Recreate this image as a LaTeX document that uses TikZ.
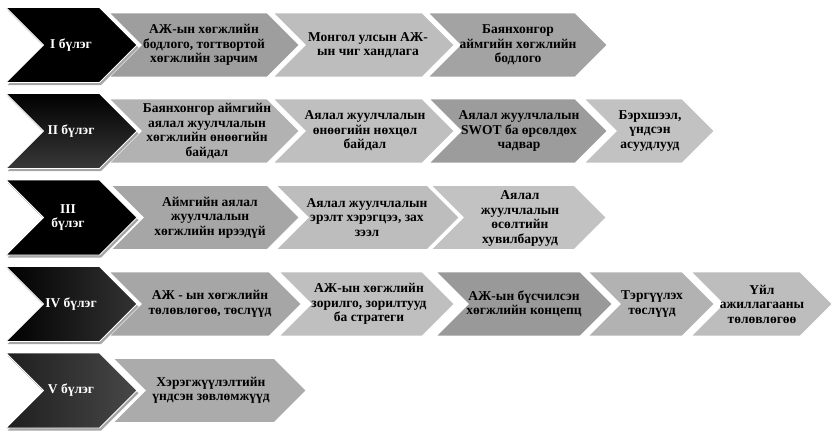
\documentclass[tikz,border=0pt]{standalone}
\usepackage{fontspec}
\setmainfont{Liberation Serif}
\usetikzlibrary{shadows}
\newcommand\chev[5]{\path[#5] (#1,#3-#4) -- ({#2-#4},#3-#4) -- (#2,#3) -- ({#2-#4},#3+#4) -- (#1,#3+#4) -- ({#1+#4},#3) -- cycle;}
\tikzset{
  greyc/.style={fill=#1, draw=white, line width=1.8pt, line join=miter},
  darkc/.style={draw=white, line width=0.8pt, line join=miter,
     drop shadow={shadow xshift=1.5pt, shadow yshift=-2.5pt, opacity=.35, fill=black}},
  gtext/.style={font=\bfseries\fontsize{13.5}{14.5}\selectfont, align=center, text=black, inner sep=0pt},
  ltext/.style={font=\bfseries\fontsize{13.5}{14.5}\selectfont, align=center, text=white, inner sep=0pt}
}
\definecolor{gA}{HTML}{9E9E9E}
\begin{document}
\begin{tikzpicture}[x=1pt,y=-1pt]
\useasboundingbox[fill=white] (0,0) rectangle (833,432);
% ---------- Row 1 ----------
\chev{108}{300}{45}{32.5}{greyc={gA}}
\chev{272}{455}{45}{32.5}{greyc={black!26}}
\chev{427}{608}{45}{32.5}{greyc={black!36}}
\chev{6}{137}{45}{37.5}{darkc, fill=black}
\node[ltext] (l1) at (71,45) {I бүлэг};
\node[gtext] (r1a) at (204,45) {АЖ-ын хөгжлийн\\бодлого, тогтвортой\\хөгжлийн зарчим};
\node[gtext] (r1b) at (368,45) {Монгол улсын АЖ-\\ын чиг хандлага};
\node[gtext] (r1c) at (518,45) {Баянхонгор\\аймгийн хөгжлийн\\бодлого};
% ---------- Row 2 ----------
\chev{108}{300}{131}{32.5}{greyc={black!30}}
\chev{272}{455}{131}{32.5}{greyc={black!25}}
\chev{428}{608}{131}{32.5}{greyc={black!39}}
\chev{583}{715}{131}{32.5}{greyc={black!24}}
\chev{6}{137}{131}{37.5}{darkc, top color=black, bottom color=black!78}
\node[ltext] (l2) at (71,131) {II бүлэг};
\node[gtext] (r2a) at (207,131) {Баянхонгор аймгийн\\аялал жуулчлалын\\хөгжлийн өнөөгийн\\байдал};
\node[gtext] (r2b) at (365,131) {Аялал жуулчлалын\\өнөөгийн нөхцөл\\байдал};
\node[gtext] (r2c) at (519,131) {Аялал жуулчлалын\\SWOT ба өрсөлдөх\\чадвар};
\node[gtext] (r2d) at (650,131) {Бэрхшээл,\\үндсэн\\асуудлууд};
% ---------- Row 3 ----------
\chev{110}{300}{217.5}{32.5}{greyc={black!35}}
\chev{275}{460}{217.5}{32.5}{greyc={black!26}}
\chev{430}{607}{217.5}{32.5}{greyc={black!24}}
\chev{6}{137}{217.5}{37.5}{darkc, fill=black}
\node[ltext] (l3) at (68,217.5) {III\\бүлэг};
\node[gtext] (r3a) at (210,217.5) {Аймгийн аялал\\жуулчлалын\\хөгжлийн ирээдүй};
\node[gtext] (r3b) at (367,217.5) {Аялал жуулчлалын\\эрэлт хэрэгцээ, зах\\зээл};
\node[gtext] (r3c) at (520,218.5) {Аялал\\жуулчлалын\\өсөлтийн\\хувилбарууд};
% ---------- Row 4 ----------
\chev{108}{302}{304}{32.5}{greyc={black!35}}
\chev{278}{455}{304}{32.5}{greyc={black!25}}
\chev{435}{613}{304}{32.5}{greyc={black!40}}
\chev{587}{715}{304}{32.5}{greyc={black!30}}
\chev{690}{833}{304}{32.5}{greyc={black!26}}
\chev{6}{137}{304}{37.5}{darkc, left color=black, right color=black!80}
\node[ltext] (l4) at (71,304) {IV бүлэг};
\node[gtext] (r4a) at (210,304) {АЖ - ын хөгжлийн\\төлөвлөгөө, төслүүд};
\node[gtext] (r4b) at (369,304) {АЖ-ын хөгжлийн\\зорилго, зорилтууд\\ба стратеги};
\node[gtext] (r4c) at (524,304) {АЖ-ын бүсчилсэн\\хөгжлийн концепц};
\node[gtext] (r4d) at (652,304) {Тэргүүлэх\\төслүүд};
\node[gtext] (r4e) at (762,304) {Үйл\\ажиллагааны\\төлөвлөгөө};
% ---------- Row 5 ----------
\chev{112}{307}{390.5}{32.5}{greyc={black!33}}
\chev{6}{137}{390.5}{37.5}{darkc, left color=black!88, right color=black!72}
\node[ltext] (l5) at (71,390.5) {V бүлэг};
\node[gtext] (r5a) at (211,390.5) {Хэрэгжүүлэлтийн\\үндсэн зөвлөмжүүд};
\end{tikzpicture}
\end{document}
